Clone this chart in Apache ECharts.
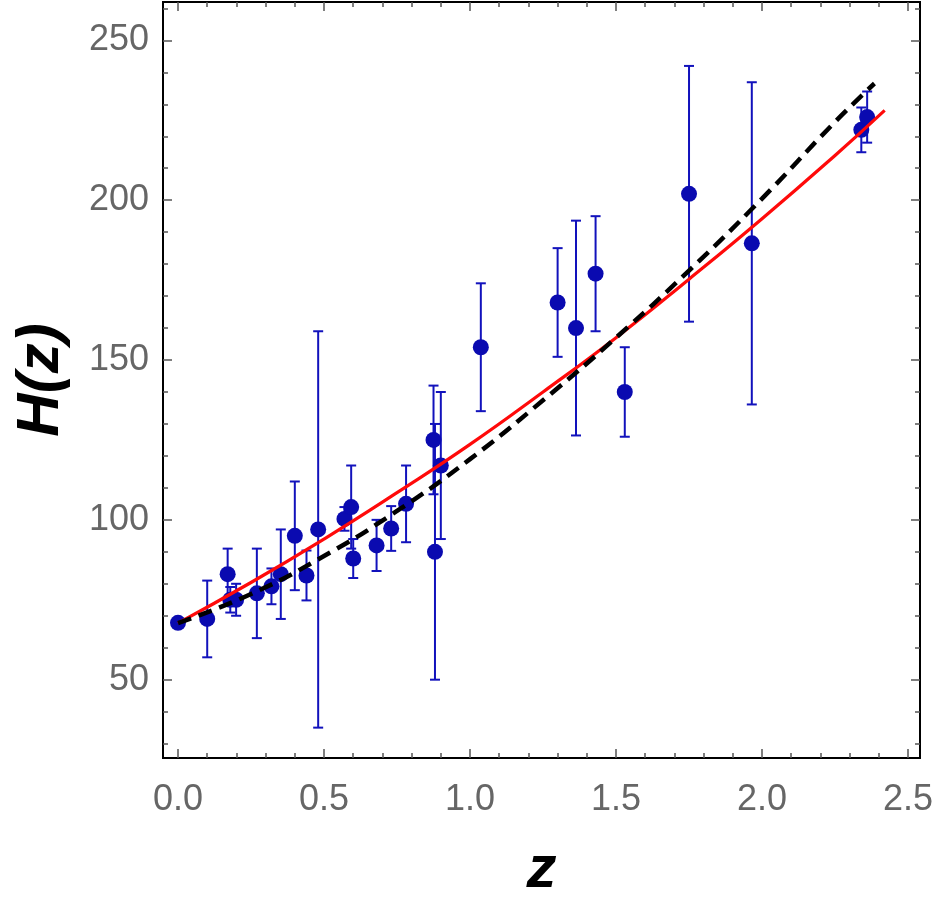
<!DOCTYPE html>
<html>
<head>
<meta charset="utf-8">
<script src="https://cdn.jsdelivr.net/npm/echarts@6/dist/echarts.min.js"></script>
<style>
  html, body { margin: 0; padding: 0; background: #fff; }
  #chart { width: 938px; height: 905px; }
</style>
</head>
<body>
<div id="chart"></div>
<script>
// observed points: redshift, H(z), 1-sigma error
const zObs = [0, 0.1, 0.17, 0.179, 0.199, 0.27, 0.32, 0.352, 0.4, 0.44, 0.48, 0.57, 0.593, 0.6, 0.68, 0.73, 0.781, 0.875, 0.88, 0.9, 1.037, 1.3, 1.363, 1.43, 1.53, 1.75, 1.965, 2.34, 2.36];
const hObs = [67.8, 69, 83, 75, 75, 77, 79.2, 83, 95, 82.6, 97, 100.3, 104, 87.9, 92, 97.3, 105, 125, 90, 117, 154, 168, 160, 177, 140, 202, 186.5, 222, 226];
const hErr = [0.9, 12, 8, 4, 5, 14, 5.6, 14, 17, 7.8, 62, 3.7, 13, 6.1, 8, 7, 12, 17, 40, 23, 20, 17, 33.6, 18, 14, 40, 50.4, 7, 8];

// red solid curve
const zRed = [0, 0.25, 0.5, 0.75, 1.0, 1.25, 1.5, 1.75, 2.0, 2.25, 2.42];
const hRed = [67.7, 80.4, 94.0, 108.5, 123.6, 140.0, 157.0, 175.3, 194.2, 214.0, 228.1];

// black dashed curve
const zDash = [0, 0.25, 0.5, 0.75, 1.0, 1.25, 1.5, 1.75, 2.0, 2.25, 2.385];
const hDash = [67.7, 76.8, 88.7, 102.8, 119.0, 137.4, 157.0, 178.0, 200.5, 224.5, 236.5];

// ticks
const xMajor = [0, 0.5, 1.0, 1.5, 2.0, 2.5];
const xMinor = [0.1, 0.2, 0.3, 0.4, 0.6, 0.7, 0.8, 0.9, 1.1, 1.2, 1.3, 1.4, 1.6, 1.7, 1.8, 1.9, 2.1, 2.2, 2.3, 2.4];
const yMajor = [50, 100, 150, 200, 250];
const yMinor = [30, 40, 60, 70, 80, 90, 110, 120, 130, 140, 160, 170, 180, 190, 210, 220, 230, 240, 260];

const xMin = -0.0514, xMax = 2.541;
const yMin = 25.5, yMax = 262;

const tickColor = '#555';
const labelFont = { color: '#666', fontSize: 36, fontFamily: 'Liberation Sans' };
const nameFont = { color: '#000', fontSize: 60, fontWeight: 'bold', fontStyle: 'italic', fontFamily: 'Liberation Sans' };

function xAxisAt(position, ticks, len, withLabel) {
  return {
    type: 'value', position: position, min: xMin, max: xMax,
    splitLine: { show: false },
    axisLine: { show: true, onZero: false, lineStyle: { color: '#000', width: 2 } },
    axisTick: { show: true, inside: true, length: len, customValues: ticks, lineStyle: { color: tickColor, width: 1.5 } },
    axisLabel: withLabel
      ? Object.assign({ show: true, margin: 24, customValues: ticks, formatter: v => v.toFixed(1) }, labelFont)
      : { show: false }
  };
}

function yAxisAt(position, ticks, len, withLabel) {
  return {
    type: 'value', position: position, min: yMin, max: yMax,
    splitLine: { show: false },
    axisLine: { show: true, onZero: false, lineStyle: { color: '#000', width: 2 } },
    axisTick: { show: true, inside: true, length: len, customValues: ticks, lineStyle: { color: tickColor, width: 1.5 } },
    axisLabel: withLabel
      ? Object.assign({ show: true, margin: 14, customValues: ticks }, labelFont)
      : { show: false }
  };
}

const xAxes = [
  xAxisAt('bottom', xMajor, 9, true),
  xAxisAt('bottom', xMinor, 5, false),
  xAxisAt('top', xMajor, 9, false),
  xAxisAt('top', xMinor, 5, false)
];
Object.assign(xAxes[0], { name: 'z', nameLocation: 'middle', nameGap: 82, nameTextStyle: nameFont });

const yAxes = [
  yAxisAt('left', yMajor, 9, true),
  yAxisAt('left', yMinor, 5, false),
  yAxisAt('right', yMajor, 9, false),
  yAxisAt('right', yMinor, 5, false)
];
Object.assign(yAxes[0], { name: 'H(z)', nameLocation: 'middle', nameRotate: 90, nameGap: 92, nameTextStyle: nameFont });

const pointColor = '#0a0ab0';
const barColor = '#1212bc';

const obsData = zObs.map((z, i) => [z, hObs[i], hErr[i]]);

const option = {
  animation: false,
  backgroundColor: '#fff',
  grid: { left: 163, right: 18, top: 2, bottom: 147 },
  xAxis: xAxes,
  yAxis: yAxes,
  series: [
    {
      type: 'custom',
      data: obsData,
      encode: { x: 0, y: 1 },
      renderItem: function (params, api) {
        const x = api.value(0), y = api.value(1), e = api.value(2);
        const top = api.coord([x, y + e]);
        const bot = api.coord([x, y - e]);
        const w = 5;
        const st = { stroke: barColor, lineWidth: 2 };
        return {
          type: 'group',
          children: [
            { type: 'line', shape: { x1: top[0], y1: top[1], x2: bot[0], y2: bot[1] }, style: st },
            { type: 'line', shape: { x1: top[0] - w, y1: top[1], x2: top[0] + w, y2: top[1] }, style: st },
            { type: 'line', shape: { x1: bot[0] - w, y1: bot[1], x2: bot[0] + w, y2: bot[1] }, style: st }
          ]
        };
      },
      z: 2
    },
    {
      type: 'scatter',
      data: obsData.map(d => [d[0], d[1]]),
      symbol: 'circle',
      symbolSize: 16,
      itemStyle: { color: pointColor, opacity: 1 },
      z: 3
    },
    {
      type: 'line',
      data: zRed.map((z, i) => [z, hRed[i]]),
      smooth: true,
      showSymbol: false,
      lineStyle: { color: '#ff0a0a', width: 3.2 },
      z: 4
    },
    {
      type: 'line',
      data: zDash.map((z, i) => [z, hDash[i]]),
      smooth: true,
      showSymbol: false,
      lineStyle: { color: '#000', width: 4.5, type: [14, 8] },
      z: 5
    }
  ]
};

const chart = echarts.init(document.getElementById('chart'));
chart.setOption(option);
</script>
</body>
</html>
